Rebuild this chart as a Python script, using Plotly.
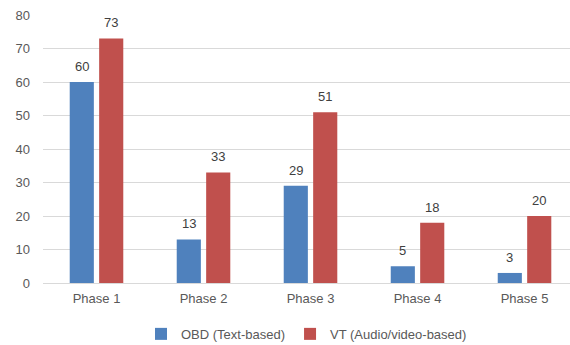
import plotly.graph_objects as go

categories = ["Phase 1", "Phase 2", "Phase 3", "Phase 4", "Phase 5"]
obd_values = [60, 13, 29, 5, 3]
vt_values = [73, 33, 51, 18, 20]
series_names = ["OBD (Text-based)", "VT (Audio/video-based)"]
y_ticks = [0, 10, 20, 30, 40, 50, 60, 70, 80]

FONT = "Liberation Sans"
TXT = "#404040"
BARGAP = 0.45
CAT_PX = 107.0  # pixels per category (for label x offset)
slot = CAT_PX * (1 - BARGAP) / 2

fig = go.Figure()
fig.add_trace(go.Bar(
    x=categories, y=obd_values, name=series_names[0],
    marker=dict(color="#4F81BD", line=dict(width=0)),
))
fig.add_trace(go.Bar(
    x=categories, y=vt_values, name=series_names[1],
    marker=dict(color="#C0504D", line=dict(width=0)),
))

annotations = []
for vals, shift in ((obd_values, -slot / 2), (vt_values, slot / 2)):
    for c, v in zip(categories, vals):
        annotations.append(dict(
            x=c, y=v, xref="x", yref="y", text=str(v), showarrow=False,
            xshift=shift, yshift=6, yanchor="bottom",
            font=dict(family=FONT, size=13, color=TXT),
        ))

fig.update_layout(
    width=570, height=345,
    margin=dict(l=43, r=0, t=15, b=62, autoexpand=False),
    paper_bgcolor="white", plot_bgcolor="white",
    barmode="group", bargap=BARGAP, bargroupgap=0.18,
    font=dict(family=FONT, size=13, color="#595959"),
    showlegend=True,
    legend=dict(orientation="h", x=0.5, xanchor="center", y=-0.19, yanchor="middle",
                font=dict(family=FONT, size=13, color="#595959"),
                itemwidth=30, traceorder="normal"),
    annotations=annotations,
    xaxis=dict(range=[-0.5, 4.425], showgrid=False, zeroline=False, showline=False,
               ticks="", tickfont=dict(family=FONT, size=13, color="#595959"),
               ticklabelstandoff=6),
    yaxis=dict(range=[0, 80], tickvals=y_ticks, showgrid=True, gridcolor="#D9D9D9",
               gridwidth=1, zeroline=True, zerolinecolor="#D9D9D9", zerolinewidth=1,
               showline=False, ticks="", ticklabelstandoff=12,
               tickfont=dict(family=FONT, size=13, color="#595959")),
)

fig.write_html("out.html")
